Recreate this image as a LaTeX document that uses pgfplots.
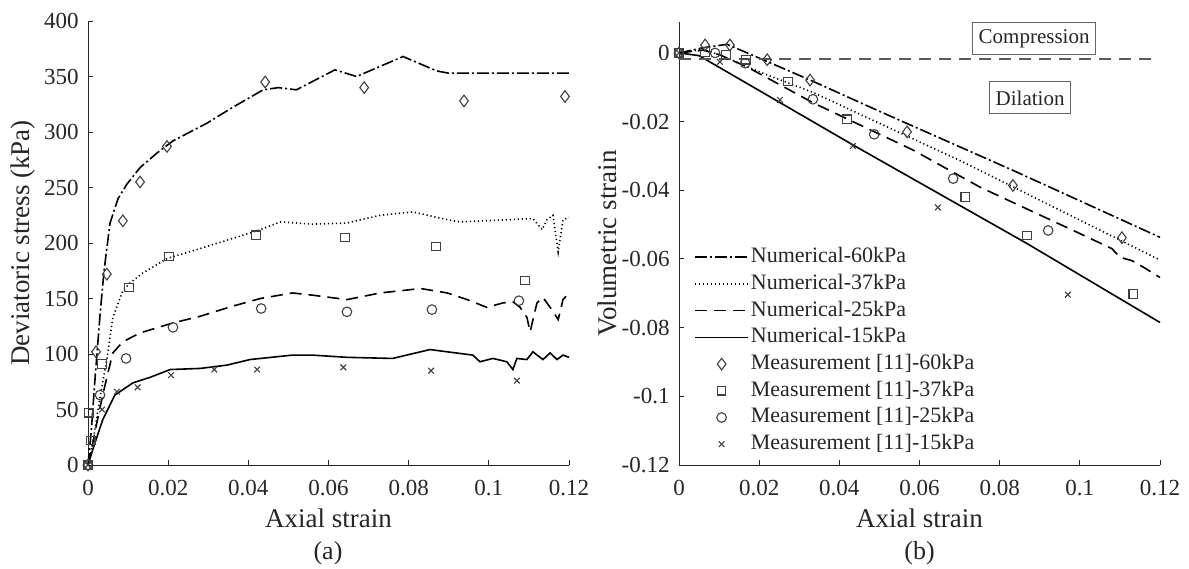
\documentclass[border=0pt]{standalone}
\usepackage{fontspec}
\setmainfont{Liberation Serif}
\usepackage{pgfplots}
\pgfplotsset{compat=1.18}
\definecolor{axc}{HTML}{262626}
\definecolor{mkc}{HTML}{404040}
\pgfplotsset{
  myax/.style={
    scale only axis, anchor=south west,
    axis lines*=left, enlargelimits=false, clip=false,
    tick align=inside, major tick length=2.5pt,
    axis line style={axc, line width=0.5pt},
    major tick style={axc, line width=0.5pt},
    tick label style={font=\fontsize{11.5}{12}\selectfont, text=axc},
    label style={font=\fontsize{13.5}{14}\selectfont, text=axc},
    xmin=0, xmax=0.12,
    xtick={0,0.02,0.04,0.06,0.08,0.1,0.12},
    xticklabels={0,0.02,0.04,0.06,0.08,0.1,0.12},
    xticklabel style={yshift=-4pt},
    yticklabel style={xshift=-1.2pt},
    xlabel style={at={([yshift=-26.5pt]axis description cs:0.5,0)}, anchor=center},
  },
  dd/.style={black, line width=0.8pt, dash pattern=on 6pt off 1.5pt on 1pt off 1.5pt},
  dt/.style={black, line width=0.8pt, dash pattern=on 0.6pt off 1.4pt},
  ds/.style={black, line width=0.8pt, dash pattern=on 6pt off 3.5pt},
  sl/.style={black, line width=0.8pt, solid},
  mD/.style={only marks, mark=diamond, mark size=2.9pt, mark options={solid, draw=mkc, fill=none, line width=0.55pt}},
  mS/.style={only marks, mark=square, mark size=2.1pt, mark options={solid, draw=mkc, fill=none, line width=0.55pt}},
  mC/.style={only marks, mark=o, mark size=2.4pt, mark options={solid, draw=mkc, fill=none, line width=0.55pt}},
  mX/.style={only marks, mark=x, mark size=2pt, mark options={solid, draw=mkc, line width=0.55pt}},
}
\begin{document}
\begin{tikzpicture}
\path[use as bounding box] (0pt,0pt) rectangle (594.5pt,284pt);
% ---------------- (a) ----------------
\begin{axis}[myax, at={(44pt,51.5pt)}, width=240.5pt, height=222pt,
  ymin=0, ymax=400, ytick={0,50,100,150,200,250,300,350,400},
  yticklabels={0,50,100,150,200,250,300,350,400},
  xlabel={Axial strain}, ylabel={Deviatoric stress (kPa)},
  ylabel style={at={([xshift=-32.25pt]axis description cs:0,0.5)}, anchor=center, rotate=0}]
\addplot[dd] coordinates {(0,0) (0.0008,30) (0.0018,80) (0.003,135) (0.004,175) (0.0055,218) (0.0075,240) (0.0097,253) (0.013,268) (0.0172,281) (0.0212,292) (0.0297,308) (0.036,322) (0.0437,338) (0.0475,340) (0.052,338) (0.0616,356) (0.067,350) (0.0786,368) (0.087,355) (0.09,353) (0.12,353)};
\addplot[dt] coordinates {(0,0) (0.0012,20) (0.0022,43) (0.003,61) (0.0047,95) (0.0062,133) (0.0087,157) (0.0105,164) (0.0137,173) (0.0197,186) (0.028,195) (0.036,204) (0.043,212) (0.048,219) (0.056,217) (0.0646,218) (0.0729,225) (0.081,228) (0.0896,221) (0.0928,219) (0.111,222) (0.1133,212) (0.1145,221) (0.116,225) (0.1173,192) (0.1185,221) (0.12,223)};
\addplot[ds] coordinates {(0,0) (0.0012,20) (0.003,52) (0.0047,79) (0.0062,101) (0.0087,111) (0.013,119) (0.0212,128) (0.028,134) (0.036,143) (0.043,150) (0.051,155) (0.056,153) (0.0646,149) (0.0729,155) (0.083,159) (0.0896,155) (0.0946,149) (0.0995,142) (0.1035,146) (0.106,147) (0.1078,142) (0.1095,133) (0.1103,120) (0.112,146) (0.1135,151) (0.1153,142) (0.1173,131) (0.1185,149) (0.12,155)};
\addplot[sl] coordinates {(0,0) (0.0012,14) (0.0037,41) (0.0067,63) (0.0112,74) (0.0155,79) (0.0205,86) (0.028,87) (0.0347,90) (0.0404,95) (0.051,99) (0.056,99) (0.0646,97) (0.076,96) (0.0853,104) (0.096,99) (0.0978,93) (0.101,96) (0.1045,93) (0.106,86) (0.107,96) (0.1095,95) (0.111,102) (0.1135,95) (0.1153,101) (0.117,95) (0.1185,99) (0.12,97)};
\addplot[mD] coordinates {(0,0) (0.002,102) (0.0047,172) (0.0087,220) (0.013,255) (0.0197,287) (0.0442,345) (0.0689,340) (0.0938,328) (0.119,332)};
\addplot[mS] coordinates {(0,0) (0.0007,22) (0.0002,47) (0.0035,91) (0.0102,160) (0.0202,188) (0.0419,207) (0.0641,205) (0.0868,197) (0.109,166)};
\addplot[mC] coordinates {(0,0) (0.003,63) (0.0095,96) (0.0212,124) (0.0432,141) (0.0646,138) (0.0858,140) (0.1075,148)};
\addplot[mX] coordinates {(0,0) (0.0035,50) (0.0072,66) (0.0124,70) (0.0207,81) (0.0315,86) (0.0422,86) (0.0637,88) (0.0856,85) (0.107,76)};
\end{axis}
% ---------------- (b) ----------------
\begin{axis}[myax, at={(339.5pt,51.5pt)}, width=240.5pt, height=221.5pt,
  ymin=-0.12, ymax=0.009, ytick={-0.12,-0.1,-0.08,-0.06,-0.04,-0.02,0},
  yticklabels={-0.12,-0.1,-0.08,-0.06,-0.04,-0.02,0},
  xlabel={Axial strain}, ylabel={Volumetric strain},
  ylabel style={at={([xshift=-36pt]axis description cs:0,0.5)}, anchor=center, rotate=0},
  legend image code/.code={\draw[mark repeat=2,mark phase=2,#1] plot coordinates {(0pt,0pt) (13.25pt,0pt) (26.5pt,0pt)};},
  legend cell align=left,
  legend style={at={(axis description cs:0.031,0.498)}, anchor=north west, draw=none, fill=none,
    font=\fontsize{11}{12}\selectfont, text=axc, inner sep=0pt, row sep=0.85pt,
    nodes={inner sep=1pt, text height=8pt, text depth=2.5pt}}]
\addplot[dd] coordinates {(0,0) (0.006,0.0015) (0.012,0.0025) (0.02,-0.0015) (0.0327,-0.0079) (0.05,-0.017) (0.0833,-0.0342) (0.12,-0.0537)};
\addplot[dt] coordinates {(0,0) (0.006,0.001) (0.01,-0.0005) (0.02,-0.0055) (0.0334,-0.0115) (0.0709,-0.0318) (0.12,-0.0603)};
\addplot[ds] coordinates {(0,0) (0.006,0.0008) (0.01,-0.0005) (0.017,-0.0041) (0.0334,-0.0145) (0.0584,-0.0283) (0.0751,-0.0391) (0.1,-0.0526) (0.108,-0.057) (0.11,-0.0595) (0.113,-0.0605) (0.116,-0.0625) (0.12,-0.0654)};
\addplot[sl] coordinates {(0,0) (0.005,-0.0008) (0.0434,-0.0268) (0.0868,-0.0555) (0.12,-0.0785)};
\addplot[mD] coordinates {(0,0) (0.0065,0.0023) (0.0127,0.0023) (0.022,-0.002) (0.0327,-0.0079) (0.0569,-0.023) (0.0833,-0.0386) (0.1105,-0.0538)};
\addplot[mS] coordinates {(0,0) (0.0065,0.0003) (0.0117,-0.0006) (0.0167,-0.002) (0.0272,-0.0084) (0.0419,-0.0193) (0.0714,-0.042) (0.0868,-0.0531) (0.1133,-0.0702)};
\addplot[mC] coordinates {(0,0) (0.009,0) (0.0165,-0.003) (0.0334,-0.0135) (0.0487,-0.0237) (0.0684,-0.0366) (0.0921,-0.0517)};
\addplot[mX] coordinates {(0,0) (0.0102,-0.0026) (0.0252,-0.0137) (0.0434,-0.0271) (0.0646,-0.045) (0.097,-0.0704)};
\addplot[forget plot, color=black!65, line width=0.6pt, dash pattern=on 6pt off 4pt] coordinates {(0,-0.0018) (0.118,-0.0018)};
\legend{Numerical-60kPa, Numerical-37kPa, Numerical-25kPa, Numerical-15kPa, Measurement [11]-60kPa, Measurement [11]-37kPa, Measurement [11]-25kPa, Measurement [11]-15kPa}
\node[draw=black!60, line width=0.5pt, fill=white, font=\fontsize{10.5}{11}\selectfont, text=axc, inner xsep=3pt, minimum height=16pt] at (axis cs:0.0886,0.0041) {Compression};
\node[draw=black!60, line width=0.5pt, fill=white, font=\fontsize{10.5}{11}\selectfont, text=axc, inner xsep=3pt, minimum height=16pt] at (axis cs:0.0876,-0.0131) {Dilation};
\end{axis}
\node[font=\fontsize{13}{14}\selectfont, text=axc] at (164pt,7.5pt) {(a)};
\node[font=\fontsize{13}{14}\selectfont, text=axc] at (459.75pt,7.5pt) {(b)};
\end{tikzpicture}
\end{document}
